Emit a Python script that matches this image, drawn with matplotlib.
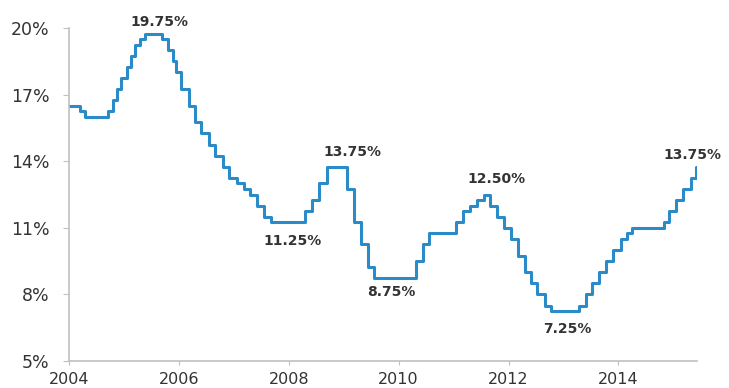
import matplotlib
matplotlib.use("Agg")
import matplotlib.pyplot as plt
import pandas as pd
import numpy as np

# Selic target rate (COPOM decisions), % per year
change_dates = [
    "2004-01-01", "2004-03-17", "2004-04-14", "2004-09-15", "2004-10-20", "2004-11-17", "2004-12-15",
    "2005-01-19", "2005-02-16", "2005-03-16", "2005-04-20", "2005-05-18", "2005-09-14", "2005-10-19",
    "2005-11-23", "2005-12-14",
    "2006-01-18", "2006-03-08", "2006-04-19", "2006-05-31", "2006-07-19", "2006-08-30", "2006-10-18",
    "2006-11-29",
    "2007-01-24", "2007-03-07", "2007-04-18", "2007-06-06", "2007-07-18", "2007-09-05",
    "2008-04-16", "2008-06-04", "2008-07-23", "2008-09-10",
    "2009-01-21", "2009-03-11", "2009-04-29", "2009-06-10", "2009-07-22",
    "2010-04-28", "2010-06-09", "2010-07-21",
    "2011-01-19", "2011-03-02", "2011-04-20", "2011-06-08", "2011-07-20", "2011-08-31", "2011-10-19",
    "2011-11-30",
    "2012-01-18", "2012-03-07", "2012-04-18", "2012-05-30", "2012-07-11", "2012-08-29", "2012-10-10",
    "2013-04-17", "2013-05-29", "2013-07-10", "2013-08-28", "2013-10-09", "2013-11-27",
    "2014-01-15", "2014-02-26", "2014-04-02", "2014-10-29", "2014-12-03",
    "2015-01-21", "2015-03-04", "2015-04-29", "2015-06-03", "2015-06-05",
]
rates = [
    16.50, 16.25, 16.00, 16.25, 16.75, 17.25, 17.75,
    18.25, 18.75, 19.25, 19.50, 19.75, 19.50, 19.00,
    18.50, 18.00,
    17.25, 16.50, 15.75, 15.25, 14.75, 14.25, 13.75,
    13.25,
    13.00, 12.75, 12.50, 12.00, 11.50, 11.25,
    11.75, 12.25, 13.00, 13.75,
    12.75, 11.25, 10.25, 9.25, 8.75,
    9.50, 10.25, 10.75,
    11.25, 11.75, 12.00, 12.25, 12.50, 12.00, 11.50,
    11.00,
    10.50, 9.75, 9.00, 8.50, 8.00, 7.50, 7.25,
    7.50, 8.00, 8.50, 9.00, 9.50, 10.00,
    10.50, 10.75, 11.00, 11.25, 11.75,
    12.25, 12.75, 13.25, 13.75, 13.75,
]

# annotations: label, x (decimal year), y (%)
ann_labels = ["19.75%", "11.25%", "13.75%", "8.75%", "12.50%", "7.25%", "13.75%"]
ann_x = [2005.65, 2008.07, 2009.16, 2009.87, 2011.78, 2013.07, 2015.35]
ann_y = [20.27, 10.41, 14.41, 8.11, 13.20, 6.44, 14.28]

y_ticks = [5, 8, 11, 14, 17, 20]
x_ticks = [2004, 2006, 2008, 2010, 2012, 2014]

d = pd.to_datetime(change_dates)
xdec = d.year + (d.dayofyear - 1) / np.where(d.is_leap_year, 366, 365)

fig = plt.figure(figsize=(7.29, 3.88), dpi=100)
ax = fig.add_axes([69 / 729, 1 - 361 / 388, (697 - 69) / 729, (361 - 28) / 388])

ax.step(xdec, rates, where="post", color="#2a8bc8", lw=2.2, solid_joinstyle="round")

ax.set_xlim(2004, 2015.43)
ax.set_ylim(5, 20)
ax.set_yticks(y_ticks)
ax.set_yticklabels([f"{v}%" for v in y_ticks])
ax.set_xticks(x_ticks)
ax.set_xticklabels([str(v) for v in x_ticks])

for s in ["top", "right"]:
    ax.spines[s].set_visible(False)
for s in ["left", "bottom"]:
    ax.spines[s].set_color("#c0c0c0")
    ax.spines[s].set_linewidth(1.2)

ax.tick_params(axis="y", length=4, color="#c0c0c0", labelsize=12.5, labelcolor="#333333", pad=10)
ax.tick_params(axis="x", length=3, color="#c0c0c0", labelsize=11.5, labelcolor="#333333", pad=5)

for lab, x, y in zip(ann_labels, ann_x, ann_y):
    ax.text(x, y, lab, ha="center", va="center", fontsize=10, fontweight="bold",
            color="#333333", clip_on=False)

fig.savefig("out.png", dpi=100)
